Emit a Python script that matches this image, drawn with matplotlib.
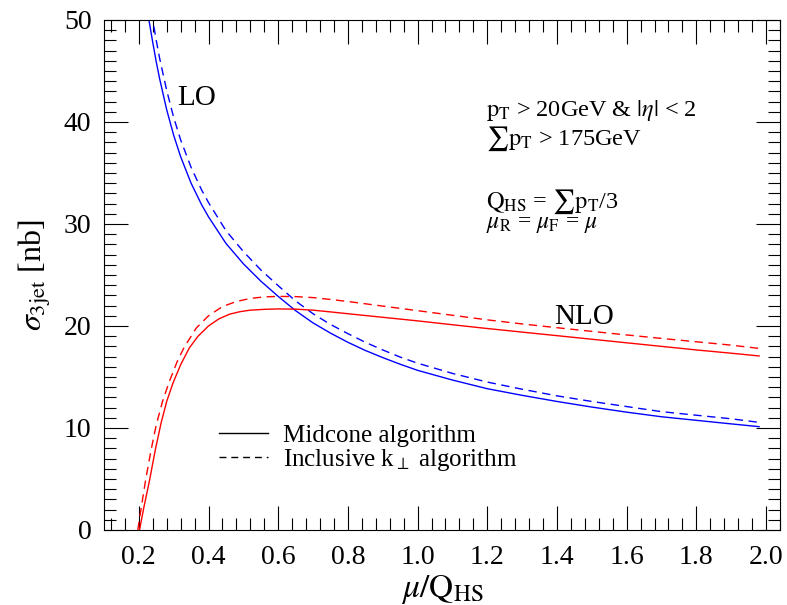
import matplotlib
matplotlib.use("Agg")
import matplotlib.pyplot as plt
from matplotlib.ticker import MultipleLocator, FormatStrFormatter
from matplotlib.lines import Line2D

plt.rcParams['font.family'] = ['Liberation Serif', 'DejaVu Serif']
plt.rcParams['mathtext.fontset'] = 'stix'

# ---- data ----
x_lo = [0.21, 0.22, 0.229, 0.24, 0.25, 0.26, 0.28, 0.30, 0.32, 0.35, 0.38, 0.40, 0.45,
        0.50, 0.55, 0.60, 0.65, 0.70, 0.75, 0.80, 0.85, 0.90, 0.95, 1.00, 1.10, 1.20,
        1.30, 1.40, 1.50, 1.60, 1.70, 1.80, 1.90, 1.98]
lo_midcone = [55.0, 52.2, 50.0, 47.8, 45.9, 44.2, 41.2, 38.7, 36.6, 34.0, 31.9, 30.7, 28.1,
              26.1, 24.4, 22.9, 21.5, 20.3, 19.3, 18.4, 17.6, 16.9, 16.25, 15.65, 14.7, 13.85,
              13.2, 12.6, 12.05, 11.55, 11.1, 10.75, 10.4, 10.13]
lo_kt = [57.5, 54.6, 52.3, 50.0, 48.0, 46.2, 43.1, 40.45, 38.25, 35.55, 33.35, 32.1, 29.35,
         27.3, 25.5, 23.95, 22.45, 21.2, 20.15, 19.25, 18.4, 17.65, 16.95, 16.35, 15.35, 14.5,
         13.8, 13.15, 12.6, 12.1, 11.6, 11.25, 10.9, 10.55]

x_nlo_mc = [0.202, 0.215, 0.231, 0.247, 0.264, 0.28, 0.298, 0.32, 0.345, 0.37, 0.40, 0.43,
            0.46, 0.49, 0.52, 0.56, 0.60, 0.65, 0.70, 0.75, 0.80, 0.90, 1.0, 1.1, 1.2, 1.3,
            1.4, 1.5, 1.6, 1.7, 1.8, 1.9, 1.98]
nlo_midcone = [0.0, 2.3, 4.9, 7.8, 10.5, 12.6, 14.4, 16.2, 17.85, 19.0, 20.0, 20.7,
               21.15, 21.4, 21.55, 21.63, 21.67, 21.65, 21.55, 21.38, 21.2, 20.85, 20.5,
               20.12, 19.75, 19.4, 19.05, 18.7, 18.35, 18.0, 17.65, 17.33, 17.06]

x_nlo_kt = [0.197, 0.208, 0.22, 0.235, 0.25, 0.268, 0.287, 0.31, 0.33, 0.365, 0.40, 0.44,
            0.48, 0.52, 0.56, 0.60, 0.65, 0.70, 0.75, 0.80, 0.90, 1.0, 1.1, 1.2, 1.3, 1.4,
            1.5, 1.6, 1.7, 1.8, 1.9, 1.98]
nlo_kt = [0.0, 2.4, 5.0, 7.8, 10.3, 12.6, 14.5, 16.5, 17.9, 19.8, 21.0, 21.9,
          22.4, 22.7, 22.85, 22.9, 22.88, 22.78, 22.6, 22.4, 21.95, 21.5, 21.05, 20.6,
          20.2, 19.83, 19.47, 19.12, 18.78, 18.45, 18.12, 17.8]

legend_labels = ["Midcone algorithm", r"Inclusive k$_\perp$ algorithm"]

# ---- figure ----
fig = plt.figure(figsize=(7.87, 6.05), dpi=100)
ax = fig.add_axes([0.1321, 0.124, 0.8590, 0.843])

dash = (0, (6, 4))
ax.plot(x_lo, lo_midcone, color='#0000ff', lw=1.0)
ax.plot(x_lo, lo_kt, color='#0000ff', lw=1.0, ls=dash)
ax.plot(x_nlo_mc, nlo_midcone, color='#ff0000', lw=1.0)
ax.plot(x_nlo_kt, nlo_kt, color='#ff0000', lw=1.0, ls=dash)

ax.set_xlim(0.1, 2.04)
ax.set_ylim(0, 50)
ax.xaxis.set_major_locator(MultipleLocator(0.2))
ax.xaxis.set_minor_locator(MultipleLocator(0.04))
ax.yaxis.set_major_locator(MultipleLocator(10))
ax.yaxis.set_minor_locator(MultipleLocator(1))
ax.xaxis.set_major_formatter(FormatStrFormatter('%.1f'))
ax.yaxis.set_major_formatter(FormatStrFormatter('%d'))
ax.tick_params(which='both', direction='in', top=True, right=True, width=0.8)
ax.tick_params(which='major', length=17, labelsize=20)
ax.tick_params(which='minor', length=8.5)
ax.tick_params(axis='x', which='major', pad=11)
ax.tick_params(axis='y', which='major', pad=9)
for s in ax.spines.values():
    s.set_linewidth(0.8)

ax.set_xlabel(r'$\mu/\mathrm{Q}_{\mathrm{HS}}$', fontsize=24)
ax.set_ylabel(r'$\sigma_{\mathrm{3jet}}$ [nb]', fontsize=23)
ax.xaxis.set_label_coords(0.5, -0.085)
ax.yaxis.set_label_coords(-0.076, 0.5)

ax.text(0.309, 41.7, 'LO', fontsize=21)
ax.text(1.393, 20.2, 'NLO', fontsize=21)

ax.text(1.195, 40.6, r'$\mathrm{p_T}$ > 20GeV & $|\eta|$ < 2', fontsize=17.5)
ax.text(1.195, 37.75, r'$\sum\mathrm{p_T}$ > 175GeV', fontsize=17.5)
ax.text(1.195, 31.6, r'$\mathrm{Q_{HS}}$ = $\sum\mathrm{p_T}$/3', fontsize=17.5)
ax.text(1.195, 29.6, r'$\mu_\mathrm{R}$ = $\mu_\mathrm{F}$ = $\mu$', fontsize=17)

handles = [Line2D([], [], color='black', lw=1.0),
           Line2D([], [], color='black', lw=1.0, ls=(0, (5, 3.5)))]
leg = ax.legend(handles, legend_labels, loc='center left', bbox_to_anchor=(0.17, 0.159),
                frameon=False, fontsize=18, handlelength=1.95, handletextpad=0.6,
                labelspacing=0.0, borderpad=0, borderaxespad=0)

fig.savefig('out.png', dpi=100)
